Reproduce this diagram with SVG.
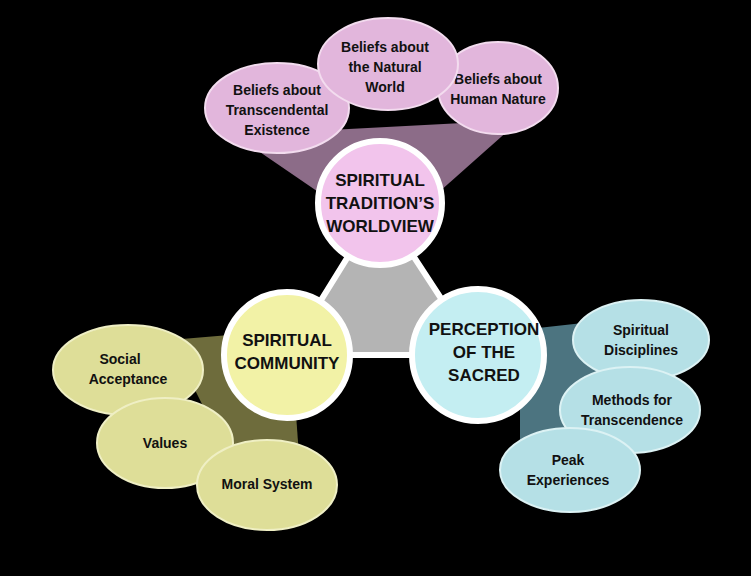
<svg xmlns="http://www.w3.org/2000/svg" width="751" height="576" viewBox="0 0 751 576">
<style>
text{font-family:"Liberation Sans",Arial,sans-serif;font-weight:bold;text-anchor:middle;fill:#111}
.s{font-size:14px}
.b{font-size:17px}
.p{fill:#e2b6dc;stroke:#f3dcef;stroke-width:2}
.y{fill:#dede98;stroke:#efefc4;stroke-width:2}
.c{fill:#b5e0e6;stroke:#dcf2f4;stroke-width:2}
.main{stroke:#fff;stroke-width:6}
</style>
<rect width="751" height="576" fill="#000"/>
<g id="connectors">
<polygon points="380,205 287,355 478,355" fill="#b4b4b4" stroke="#fff" stroke-width="6" stroke-linejoin="round"/>
<polygon points="235,135 520,120 430,200 330,200" fill="#8c6c88"/>
<polygon points="170,340 290,330 300,470 240,480" fill="#6e6c3c"/>
<polygon points="520,330 610,320 600,480 520,440" fill="#4c7480"/>
</g>
<g id="n-top1"><ellipse class="p" cx="277" cy="108" rx="72" ry="45"/><text class="s" x="277" y="95">Beliefs about</text><text class="s" x="277" y="115">Transcendental</text><text class="s" x="277" y="135">Existence</text></g>
<g id="n-top3"><ellipse class="p" cx="498" cy="88" rx="60" ry="46"/><text class="s" x="498" y="84">Beliefs about</text><text class="s" x="498" y="104">Human Nature</text></g>
<g id="n-top2"><ellipse class="p" cx="388" cy="64" rx="70" ry="46"/><text class="s" x="385" y="52">Beliefs about</text><text class="s" x="385" y="72">the Natural</text><text class="s" x="385" y="92">World</text></g>
<g id="n-left1"><ellipse class="y" cx="128" cy="370" rx="75" ry="45"/><text class="s" x="120" y="364">Social</text><text class="s" x="128" y="384">Acceptance</text></g>
<g id="n-left2"><ellipse class="y" cx="165" cy="443" rx="68" ry="45"/><text class="s" x="165" y="448">Values</text></g>
<g id="n-left3"><ellipse class="y" cx="267" cy="485" rx="70" ry="45"/><text class="s" x="267" y="489">Moral System</text></g>
<g id="n-right1"><ellipse class="c" cx="641" cy="340" rx="68" ry="40"/><text class="s" x="641" y="335">Spiritual</text><text class="s" x="641" y="355">Disciplines</text></g>
<g id="n-right2"><ellipse class="c" cx="630" cy="410" rx="70" ry="43"/><text class="s" x="632" y="405">Methods for</text><text class="s" x="632" y="425">Transcendence</text></g>
<g id="n-right3"><ellipse class="c" cx="570" cy="470" rx="70" ry="42"/><text class="s" x="568" y="465">Peak</text><text class="s" x="568" y="485">Experiences</text></g>
<g id="n-top"><circle class="main" cx="380" cy="203" r="62" fill="#f2c4ec"/><text class="b" x="380" y="186">SPIRITUAL</text><text class="b" x="380" y="209">TRADITION’S</text><text class="b" x="380" y="232">WORLDVIEW</text></g>
<g id="n-left"><circle class="main" cx="287" cy="355" r="63" fill="#f2f2a6"/><text class="b" x="287" y="346">SPIRITUAL</text><text class="b" x="287" y="369">COMMUNITY</text></g>
<g id="n-right"><circle class="main" cx="478" cy="355" r="66" fill="#c4eef2"/><text class="b" x="484" y="335">PERCEPTION</text><text class="b" x="484" y="358">OF THE</text><text class="b" x="484" y="381">SACRED</text></g>
</svg>
